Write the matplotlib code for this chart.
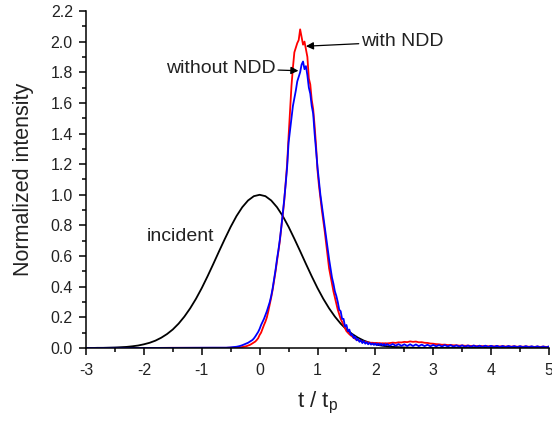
import matplotlib
matplotlib.use('Agg')
import matplotlib.pyplot as plt
from matplotlib.ticker import MultipleLocator, FormatStrFormatter
import numpy as np

plt.rcParams['font.family'] = ['Liberation Sans', 'DejaVu Sans']
plt.rcParams['mathtext.fontset'] = 'custom'
plt.rcParams['mathtext.rm'] = 'Liberation Sans'

#----------------------- data ----------------------------------------------------
# incident pulse, t = -3 .. 3 step 0.1
t_inc = np.round(np.arange(-3.0, 3.0001, 0.1), 2)
inc_half = [1.000, 0.991, 0.963, 0.919, 0.861, 0.791, 0.713, 0.632, 0.549, 0.468,
            0.391, 0.321, 0.259, 0.205, 0.159, 0.121, 0.091, 0.067, 0.048, 0.034,
            0.024, 0.016, 0.011, 0.007, 0.005, 0.003, 0.002, 0.001, 0.001, 0.000,
            0.000]
incident = inc_half[:0:-1] + inc_half

# measured pulses, flat part
t_left = [-3.0, -2.5, -2.0, -1.5, -1.0, -0.8, -0.625]
red_left = [0.000, 0.000, 0.000, 0.001, 0.001, 0.001, 0.001]
blue_left = [0.000, 0.001, 0.000, 0.001, 0.002, 0.002, 0.002]

# measured pulses, main part, t = -0.6 .. 2.2 step 0.025
t_mid = np.round(np.arange(-0.6, 2.2001, 0.025), 3)
red_mid = [0.001, 0.001, 0.001, 0.002, 0.002, 0.002, 0.003, 0.002,   # -0.6
           0.003, 0.004, 0.004, 0.005, 0.006, 0.008, 0.010, 0.012,   # -0.4
           0.016, 0.019, 0.024, 0.030, 0.036, 0.042, 0.052, 0.064,   # -0.2
           0.085, 0.100, 0.125, 0.150, 0.172, 0.200, 0.240, 0.285,   # 0.0
           0.330, 0.380, 0.440, 0.500, 0.565, 0.625, 0.700, 0.790,   # 0.2
           0.870, 0.960, 1.080, 1.200, 1.380, 1.540, 1.710, 1.830,   # 0.4
           1.930, 1.960, 1.990, 2.010, 2.080, 2.030, 1.980, 2.000,   # 0.6
           1.950, 1.900, 1.760, 1.720, 1.620, 1.560, 1.450, 1.320,   # 0.8
           1.160, 1.060, 0.980, 0.900, 0.830, 0.760, 0.680, 0.600,   # 1.0
           0.520, 0.470, 0.420, 0.370, 0.330, 0.290, 0.250, 0.220,   # 1.2
           0.190, 0.170, 0.150, 0.130, 0.110, 0.100, 0.090, 0.082,   # 1.4
           0.075, 0.066, 0.060, 0.055, 0.050, 0.048, 0.045, 0.042,   # 1.6
           0.040, 0.040, 0.038, 0.036, 0.035, 0.034, 0.034, 0.033,   # 1.8
           0.032, 0.033, 0.031, 0.032, 0.030, 0.031, 0.030, 0.031,   # 2.0
           0.030]
blue_mid = [0.002, 0.002, 0.003, 0.003, 0.004, 0.005, 0.006, 0.007,  # -0.6
            0.008, 0.010, 0.012, 0.015, 0.018, 0.022, 0.026, 0.030,  # -0.4
            0.034, 0.040, 0.046, 0.052, 0.062, 0.075, 0.090, 0.105,  # -0.2
            0.125, 0.150, 0.170, 0.190, 0.215, 0.240, 0.270, 0.300,  # 0.0
            0.340, 0.390, 0.450, 0.510, 0.580, 0.640, 0.710, 0.790,  # 0.2
            0.880, 0.970, 1.070, 1.180, 1.340, 1.420, 1.500, 1.580,  # 0.4
            1.630, 1.680, 1.740, 1.770, 1.800, 1.850, 1.870, 1.820,  # 0.6
            1.840, 1.780, 1.700, 1.660, 1.580, 1.530, 1.400, 1.290,  # 0.8
            1.180, 1.090, 1.000, 0.930, 0.860, 0.790, 0.720, 0.650,  # 1.0
            0.580, 0.520, 0.460, 0.420, 0.370, 0.340, 0.300, 0.250,  # 1.2
            0.240, 0.190, 0.190, 0.140, 0.150, 0.110, 0.120, 0.085,  # 1.4
            0.090, 0.065, 0.075, 0.050, 0.060, 0.040, 0.050, 0.032,  # 1.6
            0.045, 0.028, 0.038, 0.024, 0.034, 0.022, 0.030, 0.020,  # 1.8
            0.030, 0.018, 0.028, 0.018, 0.027, 0.017, 0.026, 0.016,  # 2.0
            0.025]

# measured pulses, tail, t = 2.25 .. 5 step 0.05
t_tail = np.round(np.arange(2.25, 5.0001, 0.05), 2)
red_tail = [0.032, 0.035, 0.033, 0.037, 0.036, 0.040, 0.038, 0.043, 0.040, 0.042,
            0.037, 0.038, 0.034, 0.033, 0.029, 0.028, 0.025, 0.024, 0.021, 0.022,
            0.019, 0.020, 0.017, 0.018, 0.015, 0.017, 0.014, 0.016, 0.013, 0.015,
            0.012, 0.014, 0.012, 0.013, 0.011, 0.013, 0.010, 0.012, 0.010, 0.012,
            0.009, 0.011, 0.009, 0.011, 0.008, 0.010, 0.008, 0.010, 0.008, 0.009,
            0.007, 0.009, 0.007, 0.009, 0.007, 0.008]
blue_tail = [0.016, 0.026, 0.015, 0.025, 0.014, 0.024, 0.013, 0.024, 0.013, 0.023,
             0.012, 0.022, 0.012, 0.021, 0.011, 0.020, 0.011, 0.019, 0.010, 0.019,
             0.010, 0.018, 0.009, 0.017, 0.009, 0.017, 0.008, 0.016, 0.008, 0.016,
             0.008, 0.015, 0.007, 0.015, 0.007, 0.014, 0.007, 0.014, 0.006, 0.013,
             0.006, 0.013, 0.006, 0.012, 0.005, 0.012, 0.005, 0.012, 0.005, 0.011,
             0.005, 0.011, 0.004, 0.010, 0.004, 0.010]

t_meas = np.concatenate([t_left, t_mid, t_tail])
red = np.concatenate([red_left, red_mid, red_tail])
blue = np.concatenate([blue_left, blue_mid, blue_tail])

#----------------------- plot -------------------------------
fig = plt.figure(figsize=(5.52, 4.22), dpi=100)
ax = fig.add_axes([0.1558, 0.1754, 0.8388, 0.7986])

ax.plot(np.append(t_inc, 5.0), np.append(incident, 0.0), color='k', lw=1.3)
ax.plot(t_meas, red, color='#ff0000', lw=1.3)
ax.plot(t_meas, blue, color='#0000ff', lw=1.3)

ax.set_xlim(-3, 5)
ax.set_ylim(0, 2.2)
ax.xaxis.set_major_locator(MultipleLocator(1))
ax.xaxis.set_minor_locator(MultipleLocator(0.5))
ax.yaxis.set_major_locator(MultipleLocator(0.2))
ax.yaxis.set_minor_locator(MultipleLocator(0.1))
ax.yaxis.set_major_formatter(FormatStrFormatter('%.1f'))
ax.xaxis.set_major_formatter(FormatStrFormatter('%d'))

for s in ['top', 'right']:
    ax.spines[s].set_visible(False)
for s in ['left', 'bottom']:
    ax.spines[s].set_linewidth(1.1)
ax.tick_params(which='major', direction='out', length=5, width=1.1,
               labelsize=11.5, labelcolor='#222222')
ax.tick_params(which='minor', direction='out', length=3, width=1.1)
ax.tick_params(axis='x', which='major', pad=6)
ax.tick_params(axis='y', which='major', pad=4.5)

ax.set_xlabel(r't / t$_\mathregular{p}$', fontsize=16, color='#222222', labelpad=8.5)
ax.set_ylabel('Normalized intensity', fontsize=15.5, color='#222222', labelpad=12)

arrow = dict(arrowstyle='-|>', color='k', lw=0.9, mutation_scale=11, shrinkA=0, shrinkB=0)
ax.annotate('with NDD', xy=(0.80, 1.97), xytext=(1.76, 2.0), fontsize=14,
            color='#222222', va='center', ha='left', arrowprops=arrow)
ax.annotate('without NDD', xy=(0.67, 1.81), xytext=(0.27, 1.826), fontsize=14,
            color='#222222', va='center', ha='right', arrowprops=arrow)
ax.text(-1.95, 0.727, 'incident', fontsize=14, color='#222222', va='center', ha='left')

plt.savefig('out.png', dpi=100)
